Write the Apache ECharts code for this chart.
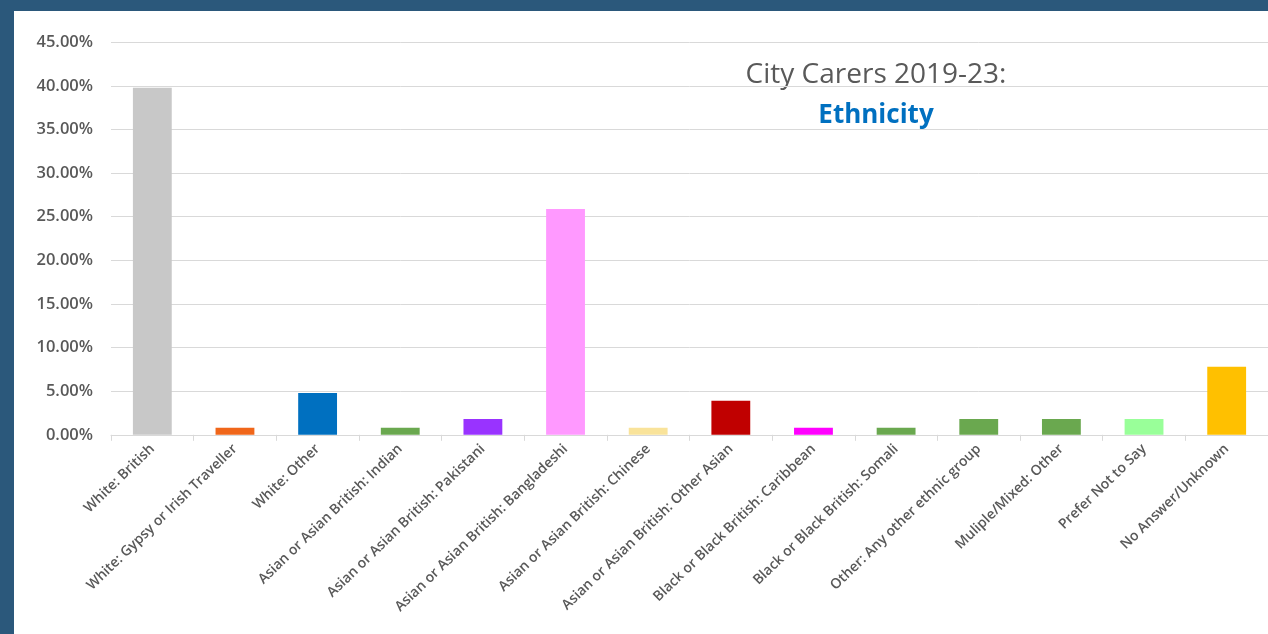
<!DOCTYPE html>
<html>
<head>
<meta charset="utf-8">
<script src="https://cdn.jsdelivr.net/npm/echarts@6/dist/echarts.min.js"></script>
<style>
html,body{margin:0;padding:0;width:1268px;height:634px;background:#2b587b;overflow:hidden;}
#chart{position:absolute;left:14px;top:11px;width:1254px;height:623px;background:#ffffff;}
</style>
</head>
<body>
<div id="chart"></div>
<script>
const categories = [
  "White: British",
  "White: Gypsy or Irish Traveller",
  "White: Other",
  "Asian or Asian British: Indian",
  "Asian or Asian British: Pakistani",
  "Asian or Asian British: Bangladeshi",
  "Asian or Asian British: Chinese",
  "Asian or Asian British: Other Asian",
  "Black or Black British: Caribbean",
  "Black or Black British: Somali",
  "Other: Any other ethnic group",
  "Muliple/Mixed: Other",
  "Prefer Not to Say",
  "No Answer/Unknown"
];
const values = [39.8, 0.8, 4.8, 0.8, 1.8, 25.9, 0.8, 3.9, 0.8, 0.8, 1.8, 1.8, 1.8, 7.8];
const barColors = ["#c8c8c8", "#f0661a", "#0070c0", "#6aa84f", "#9933ff", "#ff99ff", "#f9e39a", "#c00000", "#ff00ff", "#6aa84f", "#6aa84f", "#6aa84f", "#99ff99", "#ffc000"];
const titleLine1 = "City Carers 2019-23:";
const titleLine2 = "Ethnicity";

const chart = echarts.init(document.getElementById('chart'));
chart.setOption({
  animation: false,
  backgroundColor: '#ffffff',
  grid: {left: 97, right: -2, top: 31.3, bottom: 199.2, containLabel: false},
  xAxis: {
    type: 'category',
    data: categories,
    boundaryGap: true,
    axisLine: {show: true, lineStyle: {color: '#d9d9d9', width: 1}},
    axisTick: {show: true, alignWithLabel: false, length: 6, lineStyle: {color: '#d9d9d9'}},
    axisLabel: {
      interval: 0, rotate: 44, margin: 12,
      color: '#595959', fontFamily: 'Open Sans', fontSize: 14, fontWeight: 600
    }
  },
  yAxis: {
    type: 'value', min: 0, max: 45, interval: 5,
    axisLine: {show: false}, axisTick: {show: false},
    splitLine: {lineStyle: {color: '#d9d9d9', width: 1}},
    axisLabel: {
      margin: 18, color: '#595959', fontFamily: 'Open Sans', fontSize: 16.5, fontWeight: 600,
      formatter: v => v.toFixed(2) + '%'
    }
  },
  series: [{
    type: 'bar',
    barWidth: '47%',
    data: values.map((v, i) => ({value: v, itemStyle: {color: barColors[i]}}))
  }],
  graphic: [
    {type: 'text', x: 862, y: 64,
     style: {text: titleLine1, fill: '#595959', font: '400 28px "Open Sans"', textAlign: 'center', textVerticalAlign: 'middle'}},
    {type: 'text', x: 862, y: 105,
     style: {text: titleLine2, fill: '#0070c0', font: '700 26px "Open Sans"', textAlign: 'center', textVerticalAlign: 'middle'}}
  ]
});
</script>
</body>
</html>
